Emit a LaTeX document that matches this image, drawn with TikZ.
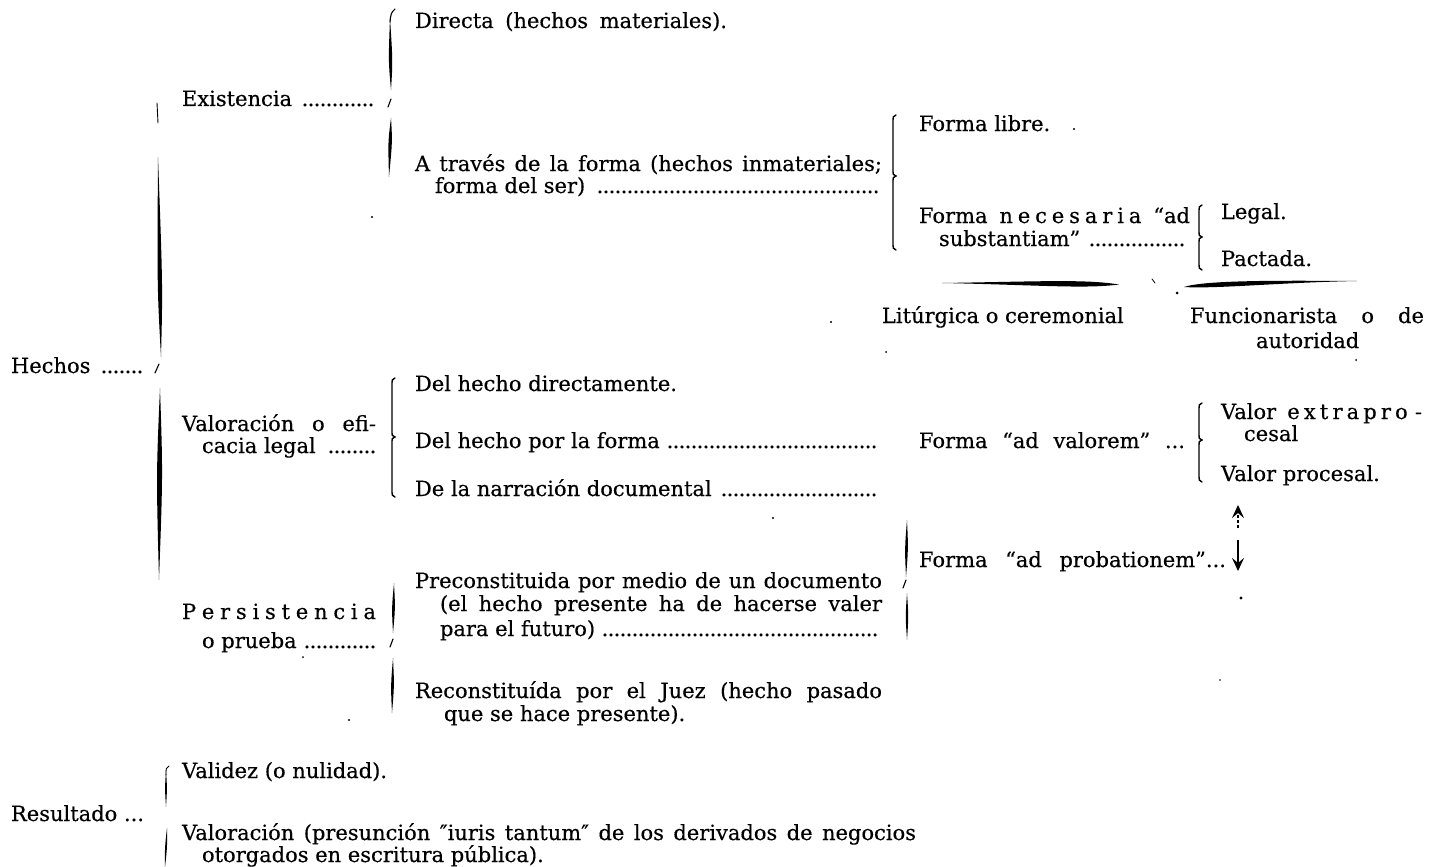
\documentclass[tikz,border=0pt]{standalone}
\usepackage{fontspec}
\setmainfont{DejaVu Serif}[FakeBold=0.4]
\usetikzlibrary{calc,arrows.meta}
\newcommand\tf{\fontsize{21}{23}\selectfont}
\newcommand\dl{\leaders\hbox to 6pt{\hss.\hss}\hfill}
\newbox\fitbx
\newcommand\fitto[2]{\setbox\fitbx=\hbox{#2}\ifdim\wd\fitbx>#1\relax\edef\fitw{\the\wd\fitbx}\pgfmathsetmacro\fitr{#1/\fitw}\scalebox{\fitr}[1]{\box\fitbx}\else\hbox to #1{#2}\fi}
\newcommand\wbr[4]{\draw[br] (#1+3,#2) .. controls (#1,#2+1) .. (#1,#2+9) -- (#1,#3-7) .. controls (#1,#3-1) .. (#1+3,#3) .. controls (#1,#3+1) .. (#1,#3+7) -- (#1,#4-9) .. controls (#1,#4-1) .. (#1+3,#4);}
\newcommand\lens[6]{\fill ($(#1,#2)$) .. controls ($(#1,#2)!#6!(#3,#4)+(#5,0)$) and ($(#1,#2)!#6!(#3,#4)+(#5,0)$) .. ($(#3,#4)$) .. controls ($(#1,#2)!#6!(#3,#4)-(#5,0)$) and ($(#1,#2)!#6!(#3,#4)-(#5,0)$) .. cycle;}
\begin{document}
\begin{tikzpicture}[x=1pt,y=-1pt,
  t/.style={anchor=base west,inner sep=0pt,outer sep=0pt,font=\tf},
  br/.style={line width=1.4pt,line cap=round},
  tick/.style={line width=1.1pt,line cap=round},
  arr/.style={line width=1.3pt,-{Stealth[length=13pt,width=12pt,inset=5pt]}}]
\fill[white] (0,0) rectangle (1430,867);
\useasboundingbox (0,0) rectangle (1430,867);

% ---- text ----
\node[t] (directa) at (415,28) {\fitto{312pt}{Directa (hechos materiales).}};
\node[t] (exist) at (182,106) {\fitto{194pt}{Existencia \dl}};
\node[t] (atrav1) at (415,171) {\fitto{467pt}{A través de la forma (hechos inmateriales;}};
\node[t] (atrav2) at (435,193) {\fitto{447pt}{forma del ser) \dl}};
\node[t] (flibre) at (919,131) {Forma libre.};
\node[t] (fnec1) at (919,223) {\hbox to 271pt{Forma\hskip 7pt plus 1fil n\hfil e\hfil c\hfil e\hfil s\hfil a\hfil r\hfil i\hfil a\hskip 7pt plus 1fil “ad}};
\node[t] (fnec2) at (939,246) {\fitto{251pt}{substantiam” \dl}};
\node[t] (legal) at (1221,219) {Legal.};
\node[t] (pactada) at (1221,266) {Pactada.};
\node[t] (liturg) at (882,323) {Litúrgica o ceremonial};
\node[t] (func1) at (1190,323) {\fitto{234pt}{Funcionarista o de}};
\node[t] (func2) at (1256,348) {autoridad};
\node[t] (hechos) at (11,373) {\fitto{135pt}{Hechos \dl}};
\node[t] (dhd) at (415,391) {Del hecho directamente.};
\node[t] (valor1) at (182,431) {\fitto{194pt}{Valoración o efi-}};
\node[t] (valor2) at (202,453) {\fitto{174pt}{cacia legal \dl}};
\node[t] (dhf) at (415,448) {\fitto{467pt}{Del hecho por la forma \dl}};
\node[t] (dln) at (415,496) {\fitto{467pt}{De la narración documental \dl}};
\node[t] (fav) at (919,448) {\fitto{266pt}{Forma “ad valorem” ...}};
\node[t] (vext1) at (1221,419) {\hbox to 201pt{Valor\hskip 7pt plus 1fil e\hfil x\hfil t\hfil r\hfil a\hfil p\hfil r\hfil o\hskip 3pt plus 1fil -}};
\node[t] (vext2) at (1244,441) {cesal};
\node[t] (vproc) at (1221,481) {Valor procesal.};
\node[t] (fap) at (919,567) {\fitto{307pt}{Forma “ad probationem”...}};
\node[t] (pre1) at (415,588) {\fitto{467pt}{Preconstituida por medio de un documento}};
\node[t] (pre2) at (440,611) {\fitto{442pt}{(el hecho presente ha de hacerse valer}};
\node[t] (pre3) at (440,636) {\fitto{442pt}{para el futuro) \dl}};
\node[t] (pers1) at (182,619) {\hbox to 194pt{P\hfil e\hfil r\hfil s\hfil i\hfil s\hfil t\hfil e\hfil n\hfil c\hfil i\hfil a}};
\node[t] (pers2) at (202,648) {\fitto{174pt}{o prueba \dl}};
\node[t] (rec1) at (415,698) {\fitto{467pt}{Reconstituída por el Juez (hecho pasado}};
\node[t] (rec2) at (444,721) {que se hace presente).};
\node[t] (valid) at (182,778) {Validez (o nulidad).};
\node[t] (result) at (11,821) {\hbox to 133pt{Resultado\hfill...}};
\node[t] (valres1) at (182,840) {\fitto{734pt}{Valoración (presunción ″iuris tantum″ de los derivados de negocios}};
\node[t] (valres2) at (202,862) {otorgados en escritura pública).};

% ---- thin braces ----
\wbr{893}{115}{176}{250}
\wbr{1199}{205}{237}{270}
\wbr{392}{378}{437}{497}
\wbr{1199}{403}{440}{482}

% ---- Hechos brace ----
\draw[tick,line width=0.9pt] (157,103) -- (158,123);
\lens{158}{157}{161}{357}{2.8}{0.65}
\draw[tick] (155,373) -- (159,364);
\lens{160}{388}{159}{580}{3.3}{0.45}

% ---- Existencia brace ----
\draw[tick] (395,9) .. controls (391,13) .. (390,22);
\lens{390}{18}{391}{90}{2.2}{0.6}
\draw[tick] (388,107) -- (391,99);
\lens{391}{118}{389}{177}{2.2}{0.4}

% ---- probationem brace ----
\lens{907}{520}{906}{577}{1.8}{0.5}
\draw[tick] (903,588) -- (906,580);
\lens{907}{593}{907}{640}{1.6}{0.5}

% ---- Persistencia brace ----
\lens{394}{583}{393}{633}{1.8}{0.5}
\draw[tick] (390,647) -- (393,639);
\lens{393}{658}{392}{713}{1.8}{0.5}

% ---- Resultado brace ----
\draw[tick,line width=0.9pt] (169,766) .. controls (166,768) .. (166,775);
\lens{166}{770}{166}{807}{1.2}{0.5}
\lens{167}{828}{165}{867}{1.2}{0.5}

% ---- horizontal strokes ----
\fill (942,283) .. controls (1040,281.5) and (1085,279) .. (1119,284.5) .. controls (1085,289) and (1040,285) .. cycle;
\fill (1184,287) .. controls (1205,280) and (1280,280.5) .. (1357,281) .. controls (1280,282.5) and (1215,289) .. cycle;
\draw[tick,line width=0.8pt] (1152,279) -- (1155,283);

% ---- arrows ----
\coordinate (upT) at (1238,505);
\coordinate (upB) at (1238,528);
\coordinate (dnT) at (1238,540);
\coordinate (dnB) at (1238,571);
\draw[arr,dash pattern=on 3pt off 2pt] (upB) -- (upT);
\draw[arr] (dnT) -- (dnB);

% ---- specks ----
\foreach \p/\r in {(372,217)/1.1,(1074,129)/1.1,(1177,293)/1.5,(831,322)/1.1,(886,352)/1.0,(1356,360)/1.0,(773,518)/1.1,(1241,598)/1.6,(1220,680)/0.9,(303,657)/1.0,(349,720)/1.1}
  \fill \p circle (\r);
\end{tikzpicture}
\end{document}
